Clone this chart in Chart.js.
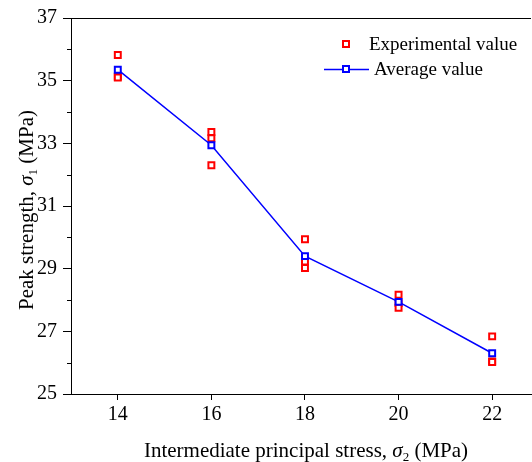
<!DOCTYPE html>
<html>
<head>
<meta charset="utf-8">
<script src="https://cdn.jsdelivr.net/npm/chart.js@4/dist/chart.umd.min.js"></script>
<style>
  html, body { margin: 0; padding: 0; background: #fff; overflow: hidden; }
  #chart { display: block; }
</style>
</head>
<body>
<canvas id="chart" width="532" height="462"></canvas>
<script>
const stress = [14, 16, 18, 20, 22];
const expA = [35.82, 33.36, 29.94, 28.17, 26.84];
const expB = [35.13, 33.16, 29.23, 27.90, 26.04];
const expC = [35.10, 32.30, 29.02, 27.75, 26.02];
const average = [35.35, 32.94, 29.40, 27.94, 26.30];
const yTicks = [25, 27, 29, 31, 33, 35, 37];
const xTicks = [14, 16, 18, 20, 22];

const FONT = '"Liberation Serif", "Times New Roman", serif';

const expPoints = [];
[expA, expB, expC].forEach(arr => arr.forEach((v, i) => expPoints.push({ x: stress[i], y: v })));
const avgPoints = average.map((v, i) => ({ x: stress[i], y: v }));

function drawRich(ctx, parts, x, y, size) {
  // parts: [text, style] - 'n' normal, 'i' italic, 's' subscript
  const fontFor = s => s === 'i' ? `italic ${size}px ${FONT}` : s === 's' ? `${Math.round(size * 0.62)}px ${FONT}` : `${size}px ${FONT}`;
  let total = 0;
  parts.forEach(([t, s]) => { ctx.font = fontFor(s); total += ctx.measureText(t).width; });
  let cx = x - total / 2;
  parts.forEach(([t, s]) => {
    ctx.font = fontFor(s);
    ctx.fillText(t, cx, s === 's' ? y + 4 : y);
    cx += ctx.measureText(t).width;
  });
}

const extras = {
  id: 'extras',
  afterDraw(chart) {
    const ctx = chart.ctx;
    const a = chart.chartArea;
    const ys = chart.scales.y;
    ctx.save();
    ctx.strokeStyle = '#000';
    ctx.lineWidth = 1;
    // top frame line
    ctx.beginPath();
    ctx.moveTo(a.left, Math.round(a.top) + 0.5);
    ctx.lineTo(a.right, Math.round(a.top) + 0.5);
    ctx.stroke();
    // minor y ticks
    for (let v = ys.min + 1; v < ys.max; v += 2) {
      const py = Math.round(ys.getPixelForValue(v)) + 0.5;
      ctx.beginPath();
      ctx.moveTo(a.left - 4, py);
      ctx.lineTo(a.left, py);
      ctx.stroke();
    }
    // axis titles
    ctx.fillStyle = '#000';
    ctx.textBaseline = 'alphabetic';
    ctx.textAlign = 'left';
    drawRich(ctx, [['Intermediate principal stress, ', 'n'], ['σ', 'i'], ['2', 's'], [' (MPa)', 'n']], 306, 457, 21);
    ctx.save();
    ctx.translate(33, 210);
    ctx.rotate(-Math.PI / 2);
    drawRich(ctx, [['Peak strength, ', 'n'], ['σ', 'i'], ['1', 's'], [' (MPa)', 'n']], 0, 0, 21);
    ctx.restore();
    // legend
    const ds = chart.data.datasets;
    ctx.font = `19px ${FONT}`;
    ctx.textBaseline = 'middle';
    // experimental
    ctx.strokeStyle = ds[0].borderColor;
    ctx.lineWidth = 2;
    ctx.strokeRect(343, 41, 6, 6);
    ctx.fillStyle = '#000';
    ctx.fillText(ds[0].label, 369, 45);
    // average
    ctx.strokeStyle = ds[1].borderColor;
    ctx.lineWidth = 1.5;
    ctx.beginPath();
    ctx.moveTo(324, 69.5);
    ctx.lineTo(369, 69.5);
    ctx.stroke();
    ctx.fillStyle = '#fff';
    ctx.fillRect(343, 66, 6, 6);
    ctx.lineWidth = 2;
    ctx.strokeRect(343, 66, 6, 6);
    ctx.fillStyle = '#000';
    ctx.fillText(ds[1].label, 374, 70);
    ctx.restore();
  }
};

new Chart(document.getElementById('chart').getContext('2d'), {
  type: 'scatter',
  data: {
    datasets: [
      {
        label: 'Experimental value', data: expPoints, order: 2,
        borderColor: '#ff0000', backgroundColor: '#ffffff',
        pointStyle: 'rect', pointRadius: 4.2, borderWidth: 2, showLine: false
      },
      {
        label: 'Average value', data: avgPoints, order: 1,
        borderColor: '#0000ff', backgroundColor: '#ffffff',
        pointStyle: 'rect', pointRadius: 4.2, pointBorderWidth: 2, borderWidth: 1.5,
        showLine: true, tension: 0
      }
    ]
  },
  options: {
    responsive: false,
    animation: false,
    layout: { autoPadding: false, padding: { top: 16, right: 1, left: 0, bottom: 0 } },
    plugins: { legend: { display: false }, tooltip: { enabled: false } },
    scales: {
      x: {
        type: 'linear', min: 13, max: 22.83,
        afterBuildTicks: s => { s.ticks = xTicks.map(v => ({ value: v })); },
        afterFit: s => { s.height = 68; },
        ticks: { color: '#000', font: { family: FONT, size: 20 }, padding: 3, maxRotation: 0 },
        grid: { drawOnChartArea: false, drawTicks: true, tickLength: 6, color: '#000' },
        border: { display: true, color: '#000', width: 1 }
      },
      y: {
        min: 25, max: 37,
        afterBuildTicks: s => { s.ticks = yTicks.map(v => ({ value: v })); },
        afterFit: s => { s.width = 71; },
        ticks: { color: '#000', font: { family: FONT, size: 20 }, padding: 6 },
        grid: { drawOnChartArea: false, drawTicks: true, tickLength: 8, color: '#000' },
        border: { display: true, color: '#000', width: 1 }
      }
    }
  },
  plugins: [extras]
});
</script>
</body>
</html>
